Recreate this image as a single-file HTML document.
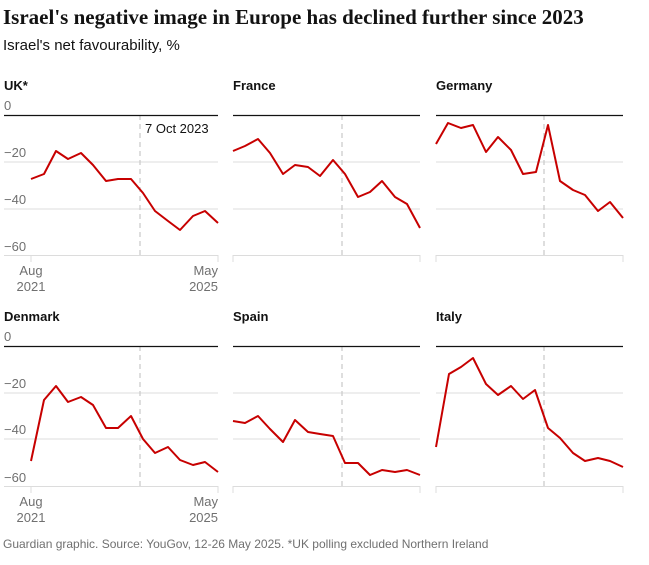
<!DOCTYPE html><html><head><style>body{margin:0;background:#fff;width:649px;height:560px;overflow:hidden}</style></head><body>
<svg width="649" height="560" xmlns="http://www.w3.org/2000/svg" font-family="Liberation Sans, sans-serif">
<text x="3" y="24" font-family="Liberation Serif, serif" font-weight="bold" font-size="21" fill="#121212">Israel's negative image in Europe has declined further since 2023</text>
<text x="3" y="50" font-size="15" fill="#121212">Israel's net favourability, %</text>
<g font-size="13" font-weight="bold" fill="#121212">
<text x="4" y="90">UK*</text><text x="233" y="90">France</text><text x="436" y="90">Germany</text>
<text x="4" y="321">Denmark</text><text x="233" y="321">Spain</text><text x="436" y="321">Italy</text></g>
<g id="grids" stroke="#dcdcdc" stroke-width="1">
<path d="M4 162H218M4 209H218M4 255.5H218M233 162H420M233 209H420M233 255.5H420M436 162H623M436 209H623M436 255.5H623"/>
<path d="M4 393H218M4 439H218M4 486.5H218M233 393H420M233 439H420M233 486.5H420M436 393H623M436 439H623M436 486.5H623"/>
<path d="M31 255V262M218 255V262M233 255V262M420 255V262M436 255V262M623 255V262M31 486V493M218 486V493M233 486V493M420 486V493M436 486V493M623 486V493"/>
</g>
<g stroke="#ccc" stroke-dasharray="5,4" stroke-width="1.3">
<path d="M140 115V255M342 115V255M544 115V255M140 346V486M342 346V486M544 346V486"/></g>
<g stroke="#121212" stroke-width="1.2"><path d="M4 115.5H218M233 115.5H420M436 115.5H623M4 346.5H218M233 346.5H420M436 346.5H623"/></g>
<g font-size="13" fill="#707070">
<text x="4" y="110">0</text><text x="4" y="157">−20</text><text x="4" y="204">−40</text><text x="4" y="251">−60</text>
<text x="4" y="341">0</text><text x="4" y="388">−20</text><text x="4" y="434">−40</text><text x="4" y="482">−60</text>
<text x="31" y="275" text-anchor="middle">Aug</text><text x="31" y="291" text-anchor="middle">2021</text>
<text x="218" y="275" text-anchor="end">May</text><text x="218" y="291" text-anchor="end">2025</text>
<text x="31" y="506" text-anchor="middle">Aug</text><text x="31" y="522" text-anchor="middle">2021</text>
<text x="218" y="506" text-anchor="end">May</text><text x="218" y="522" text-anchor="end">2025</text>
</g>
<text x="145" y="133" font-size="13" fill="#121212">7 Oct 2023</text>
<g fill="none" stroke="#c70000" stroke-width="2" stroke-linejoin="round">
<polyline points="31,179 44,174 56,151 68,159 81,153 93,165 106,181 118,179 131,179 143,193 155,211 168,221 180,230 193,216 205,211 218,223"/>
<polyline points="233,151 245,146 258,139 270,153 283,174 295,165 308,167 320,176 333,160 345,174 358,197 370,192 382,181 395,197 407,204 420,228"/>
<polyline points="436,144 448,123 461,128 473,125 486,152 498,137 511,150 523,174 536,172 548,125 560,181 573,190 585,195 598,211 610,202 623,218"/>
<polyline points="31,461 44,400 56,386 68,402 81,397 93,405 106,428 118,428 131,416 143,439 155,453 168,447 180,460 193,465 205,462 218,472"/>
<polyline points="233,421 245,423 258,416 270,429 283,442 295,420 308,432 320,434 333,436 345,463 358,463 370,475 382,470 395,472 407,470 420,475"/>
<polyline points="436,447 449,374 461,367 473,358 486,384 498,395 511,386 523,399 535,390 548,428 560,438 573,453 585,461 598,458 610,461 623,467"/>
</g>
<text x="3" y="548" font-size="12" fill="#707070">Guardian graphic. Source: YouGov, 12-26 May 2025. *UK polling excluded Northern Ireland</text>
</svg></body></html>
